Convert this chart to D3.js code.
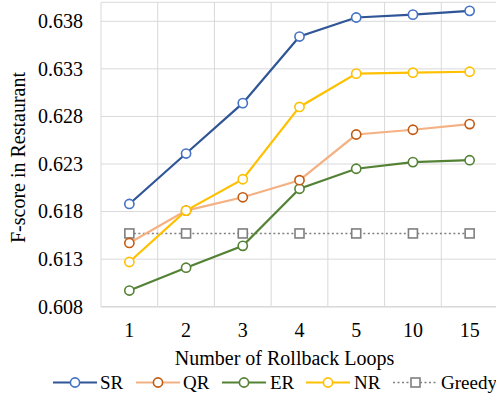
<!DOCTYPE html>
<html><head><meta charset="utf-8">
<script src="https://cdn.jsdelivr.net/npm/d3@7"></script>
<style>html,body{margin:0;padding:0;background:#fff;}svg{display:block;}
svg text{font-family:"Liberation Serif","Times New Roman","DejaVu Serif",serif !important;}</style>
</head><body>
<script>
const categories = ["1","2","3","4","5","10","15"];
const SR = [0.6188, 0.6241, 0.6294, 0.6364, 0.6384, 0.6387, 0.6391];
const QR = [0.6147, 0.6181, 0.6195, 0.6213, 0.6261, 0.6266, 0.6272];
const ER = [0.6097, 0.6121, 0.6144, 0.6204, 0.6225, 0.6232, 0.6234];
const NR = [0.6127, 0.6181, 0.6214, 0.6290, 0.6325, 0.6326, 0.6327];
const Greedy = [0.6157, 0.6157, 0.6157, 0.6157, 0.6157, 0.6157, 0.6157];
const yTicks = [0.608, 0.613, 0.618, 0.623, 0.628, 0.633, 0.638];
const seriesNames = ["SR","QR","ER","NR","Greedy"];

const W = 496, H = 396;
const pLeft = 101, pRight = 498, pTop = 2.3, pBottom = 306.7;
const font = "Liberation Serif";

const svg = d3.select("body").append("svg").attr("width", W).attr("height", H);
const x = d3.scaleBand().domain(categories).range([pLeft, pRight]);
const y = d3.scaleLinear().domain([0.608, 0.640]).range([pBottom, pTop]);

const grid = "#D9D9D9";
const g = svg.append("g");
g.selectAll("line.h").data(yTicks.concat([0.640])).enter().append("line")
  .attr("x1", pLeft).attr("x2", pRight).attr("y1", d => y(d)).attr("y2", d => y(d))
  .attr("stroke", grid).attr("stroke-width", 1);
const edges = categories.map(c => x(c)).concat([pRight]);
g.selectAll("line.v").data(edges).enter().append("line")
  .attr("x1", d => d).attr("x2", d => d).attr("y1", pTop).attr("y2", pBottom)
  .attr("stroke", grid).attr("stroke-width", 1);
g.append("line").attr("x1", pLeft).attr("x2", pRight).attr("y1", pBottom).attr("y2", pBottom)
  .attr("stroke", grid).attr("stroke-width", 1.5);

const yAxis = d3.axisLeft(y).tickValues(yTicks).tickFormat(d3.format(".3f")).tickSize(0).tickPadding(18);
const ya = svg.append("g").attr("transform", `translate(${pLeft},0)`).call(yAxis);
ya.select(".domain").remove();
ya.selectAll("text").style("font-family", font).attr("font-size", 20).attr("fill", "#000");

const xAxis = d3.axisBottom(x).tickSize(0).tickPadding(16);
const xa = svg.append("g").attr("transform", `translate(0,${pBottom})`).call(xAxis);
xa.select(".domain").remove();
xa.selectAll("text").style("font-family", font).attr("font-size", 20).attr("fill", "#000");

svg.append("text").attr("x", 284.5).attr("y", 365).attr("text-anchor", "middle")
  .style("font-family", font).attr("font-size", 20).text("Number of Rollback Loops");
svg.append("text").attr("transform", "translate(24.5,157.5) rotate(-90)").attr("text-anchor", "middle")
  .style("font-family", font).attr("font-size", 20).text("F-score in Restaurant");

const styles = {
  SR: {data: SR, line: "#2F5597", mark: "#4472C4", shape: "circle"},
  QR: {data: QR, line: "#F4B183", mark: "#C55A11", shape: "circle"},
  ER: {data: ER, line: "#548235", mark: "#548235", shape: "circle"},
  NR: {data: NR, line: "#FFC000", mark: "#FFC000", shape: "circle"},
  Greedy: {data: Greedy, line: "#7F7F7F", mark: "#7F7F7F", shape: "square", dash: "2,2.5"}
};
const cx = c => x(c) + x.bandwidth() / 2;
const lineGen = d3.line().x((d, i) => cx(categories[i])).y(d => y(d));

["Greedy","ER","QR","NR","SR"].forEach(name => {
  const s = styles[name];
  const sg = svg.append("g");
  sg.append("path").datum(s.data).attr("d", lineGen).attr("fill", "none")
    .attr("stroke", s.line).attr("stroke-width", s.dash ? 1.5 : 2.2)
    .attr("stroke-dasharray", s.dash || null);
  if (s.shape === "circle") {
    sg.selectAll("circle").data(s.data).enter().append("circle")
      .attr("cx", (d, i) => cx(categories[i])).attr("cy", d => y(d)).attr("r", 4.6)
      .attr("fill", "#fff").attr("stroke", s.mark).attr("stroke-width", 1.6);
  } else {
    sg.selectAll("rect").data(s.data).enter().append("rect")
      .attr("x", (d, i) => cx(categories[i]) - 4.5).attr("y", d => y(d) - 4.5)
      .attr("width", 9).attr("height", 9)
      .attr("fill", "#fff").attr("stroke", s.mark).attr("stroke-width", 1.6);
  }
});

const legendItems = [
  {name: "SR", x0: 53, x1: 97, tx: 100},
  {name: "QR", x0: 136, x1: 180, tx: 183},
  {name: "ER", x0: 222, x1: 266, tx: 270},
  {name: "NR", x0: 306, x1: 350, tx: 354},
  {name: "Greedy", x0: 393, x1: 438, tx: 441}
];
const ly = 382.5;
legendItems.forEach(it => {
  const s = styles[it.name];
  const lg = svg.append("g");
  lg.append("line").attr("x1", it.x0).attr("x2", it.x1).attr("y1", ly).attr("y2", ly)
    .attr("stroke", s.line).attr("stroke-width", s.dash ? 1.5 : 2.2)
    .attr("stroke-dasharray", s.dash || null);
  const mx = (it.x0 + it.x1) / 2;
  if (s.shape === "circle") {
    lg.append("circle").attr("cx", mx).attr("cy", ly).attr("r", 4.6)
      .attr("fill", "#fff").attr("stroke", s.mark).attr("stroke-width", 1.6);
  } else {
    lg.append("rect").attr("x", mx - 4.5).attr("y", ly - 4.5).attr("width", 9).attr("height", 9)
      .attr("fill", "#fff").attr("stroke", s.mark).attr("stroke-width", 1.6);
  }
  lg.append("text").attr("x", it.tx).attr("y", ly + 6.5).style("font-family", font)
    .attr("font-size", 19).text(it.name);
});
</script>
</body></html>
